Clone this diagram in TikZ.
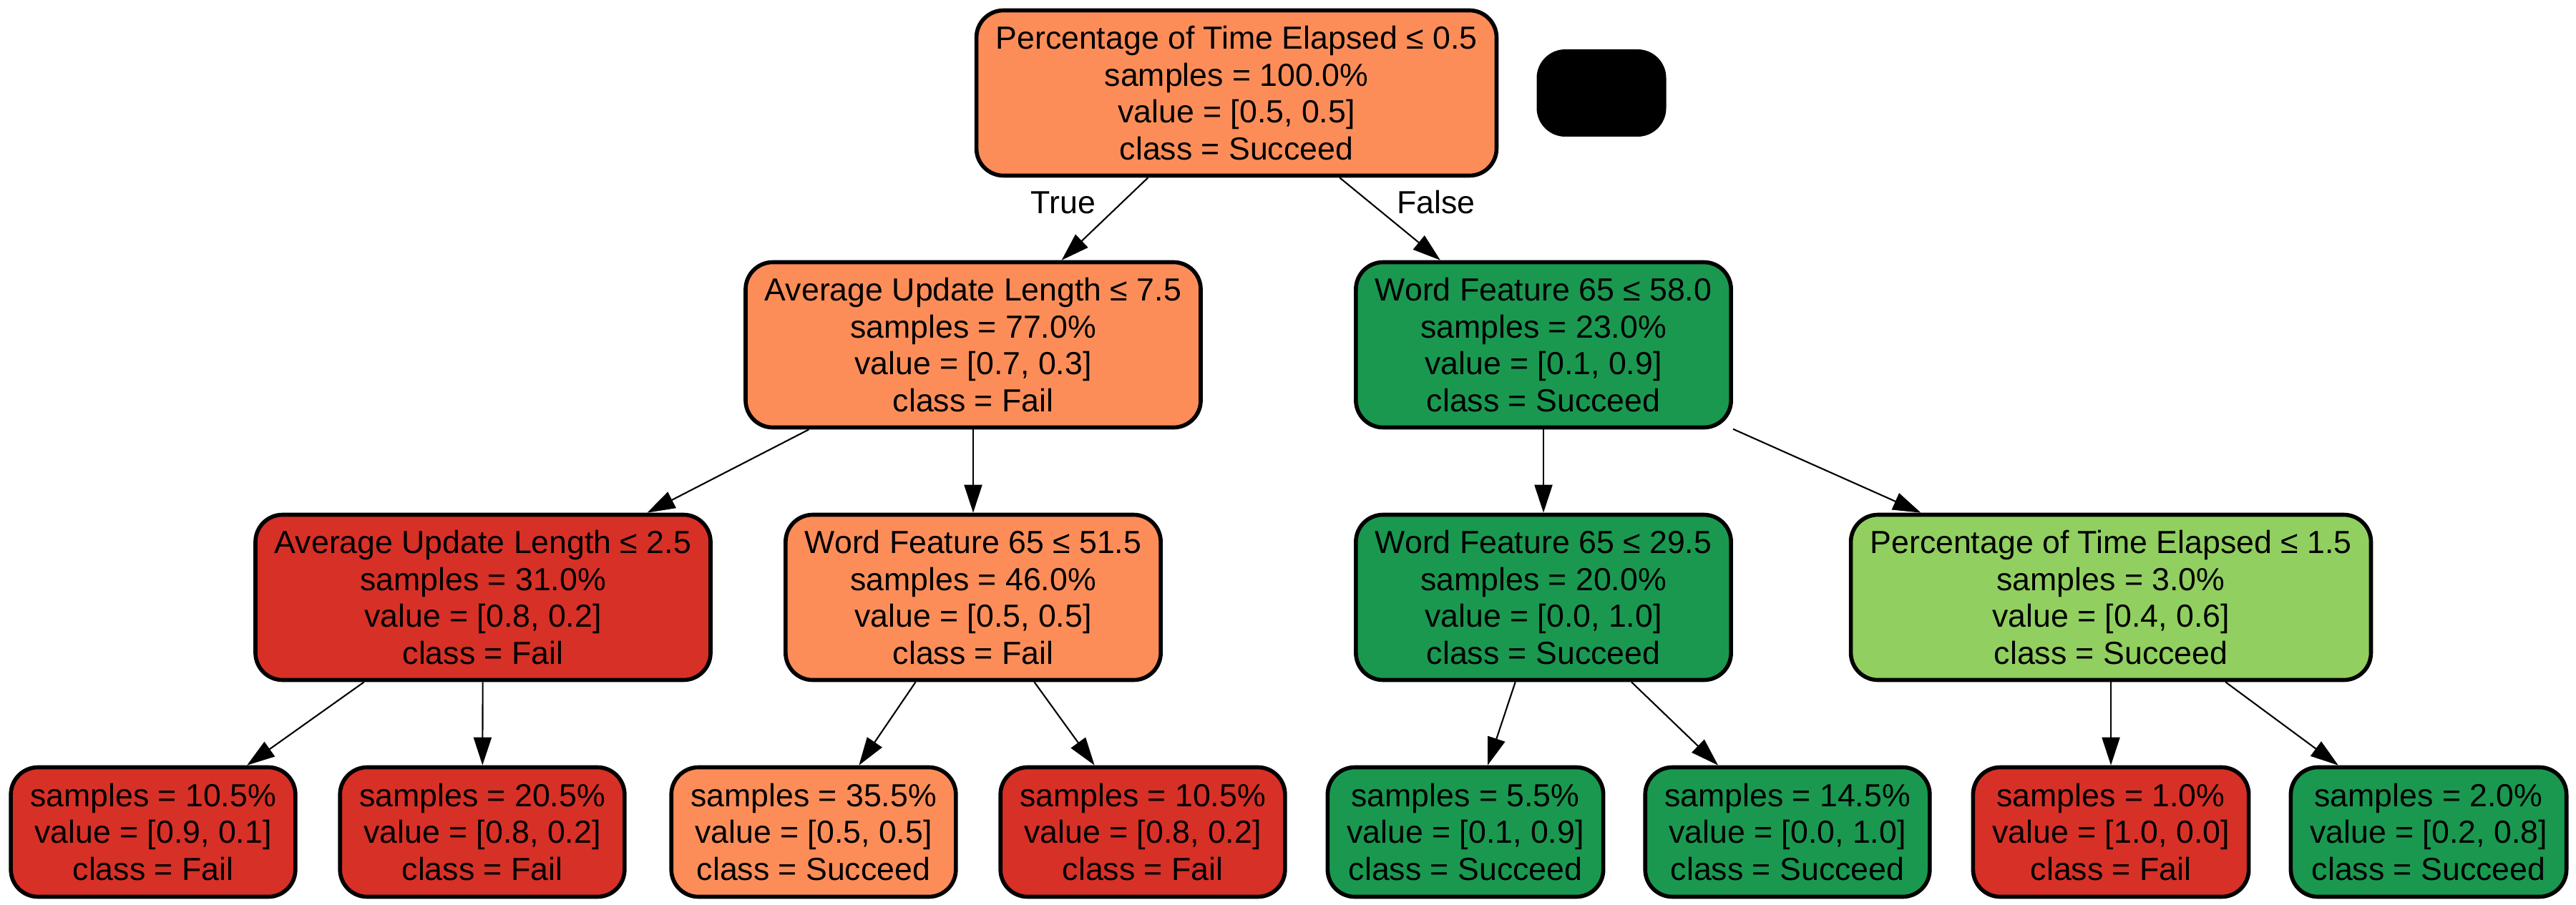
\documentclass[tikz,border=0pt]{standalone}
\usepackage{fontspec}
\setmainfont{Liberation Sans}
\usepackage{xcolor}
\usepackage{tikz}
\usetikzlibrary{
    arrows.meta,
    positioning
}
\definecolor{failred}{HTML}{D73027}
\definecolor{failorange}{HTML}{FC8D59}
\definecolor{succgreen}{HTML}{1A9850}
\definecolor{succlight}{HTML}{91CF60}
\tikzset
{
  treenode/.style={draw=black,line width=1.6pt,rounded corners=0.38cm,align=center,inner xsep=0.27cm,inner ysep=0pt,font=\fontsize{12.7}{14.7}\selectfont},
  split/.style={treenode,minimum height=2.31cm},
  leaf/.style={treenode,minimum height=1.81cm},
  legend/.style={fill=black,rounded corners=0.4cm,minimum width=1.81cm,minimum height=1.22cm,inner sep=0pt},
  branch/.style={draw=black,line width=0.6pt,-{Triangle[length=0.39cm,width=0.25cm]}},
  elabel/.style={inner sep=0pt,font=\fontsize{12.7}{14.7}\selectfont}
}

\begin{document}
\begin{tikzpicture}
        \useasboundingbox (0,0) rectangle (36,-12.65);

        % Root and legend
        \node[split, fill=failorange] (root) at (17.28,-1.30) {Percentage of Time Elapsed ≤ 0.5\\samples = 100.0\%\\value = [0.5, 0.5]\\class = Succeed};
        \node[legend] (legend) at (22.38,-1.30) {};

        % Second level
        \node[split, fill=failorange] (aul75) at (13.60,-4.82) {Average Update Length ≤ 7.5\\samples = 77.0\%\\value = [0.7, 0.3]\\class = Fail};
        \node[split, fill=succgreen] (wf58) at (21.57,-4.82) {Word Feature 65 ≤ 58.0\\samples = 23.0\%\\value = [0.1, 0.9]\\class = Succeed};

        % Third level
        \node[split, fill=failred] (aul25) at (6.75,-8.35) {Average Update Length ≤ 2.5\\samples = 31.0\%\\value = [0.8, 0.2]\\class = Fail};
        \node[split, fill=failorange] (wf515) at (13.60,-8.35) {Word Feature 65 ≤ 51.5\\samples = 46.0\%\\value = [0.5, 0.5]\\class = Fail};
        \node[split, fill=succgreen] (wf295) at (21.57,-8.35) {Word Feature 65 ≤ 29.5\\samples = 20.0\%\\value = [0.0, 1.0]\\class = Succeed};
        \node[split, fill=succlight] (pte15) at (29.50,-8.35) {Percentage of Time Elapsed ≤ 1.5\\samples = 3.0\%\\value = [0.4, 0.6]\\class = Succeed};

        % Leaves
        \node[leaf, fill=failred] (leafa) at (2.14,-11.63) {samples = 10.5\%\\value = [0.9, 0.1]\\class = Fail};
        \node[leaf, fill=failred] (leafb) at (6.74,-11.63) {samples = 20.5\%\\value = [0.8, 0.2]\\class = Fail};
        \node[leaf, fill=failorange] (leafc) at (11.37,-11.63) {samples = 35.5\%\\value = [0.5, 0.5]\\class = Succeed};
        \node[leaf, fill=failred] (leafd) at (15.97,-11.63) {samples = 10.5\%\\value = [0.8, 0.2]\\class = Fail};
        \node[leaf, fill=succgreen] (leafe) at (20.48,-11.63) {samples = 5.5\%\\value = [0.1, 0.9]\\class = Succeed};
        \node[leaf, fill=succgreen] (leaff) at (24.98,-11.63) {samples = 14.5\%\\value = [0.0, 1.0]\\class = Succeed};
        \node[leaf, fill=failred] (leafg) at (29.50,-11.63) {samples = 1.0\%\\value = [1.0, 0.0]\\class = Fail};
        \node[leaf, fill=succgreen] (leafh) at (33.94,-11.63) {samples = 2.0\%\\value = [0.2, 0.8]\\class = Succeed};

        % Branches
        \draw[branch] (root) -- (aul75) node[elabel, pos=0.3, left=0.36cm] {True};
        \draw[branch] (root) -- (wf58) node[elabel, pos=0.3, right=0.37cm] {False};
        \draw[branch] (aul75) -- (aul25);
        \draw[branch] (aul75) -- (wf515);
        \draw[branch] (wf58) -- (wf295);
        \draw[branch] (wf58) -- (pte15);
        \draw[branch] (aul25) -- (leafa);
        \draw[branch] (aul25) -- (leafb);
        \draw[branch] (wf515) -- (leafc);
        \draw[branch] (wf515) -- (leafd);
        \draw[branch] (wf295) -- (leafe);
        \draw[branch] (wf295) -- (leaff);
        \draw[branch] (pte15) -- (leafg);
        \draw[branch] (pte15) -- (leafh);
    \end{tikzpicture}
\end{document}
